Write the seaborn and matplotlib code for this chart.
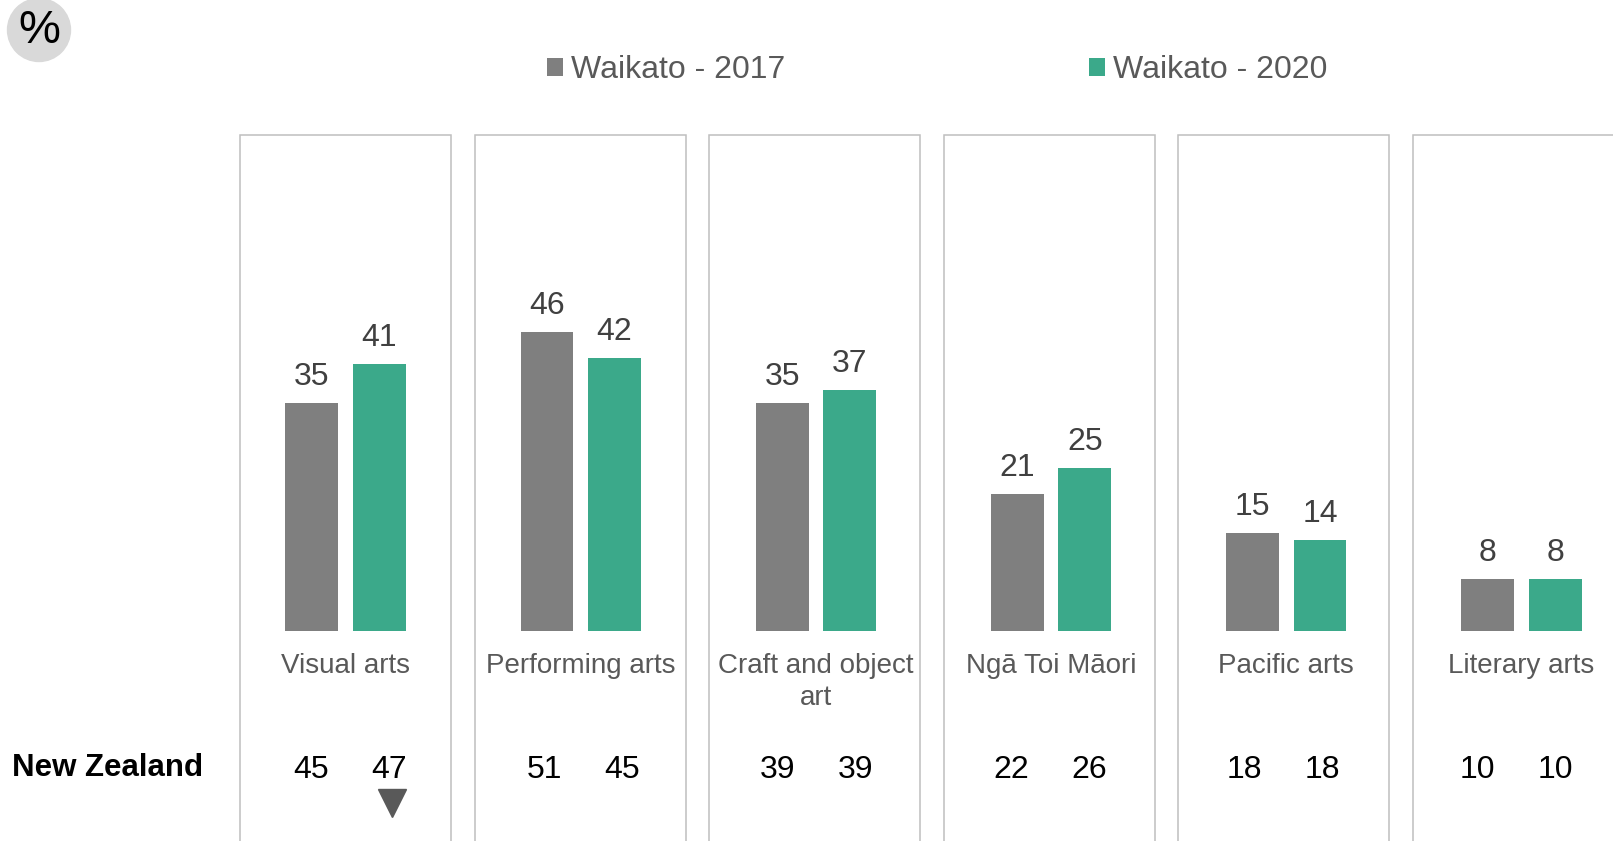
import matplotlib
matplotlib.use("Agg")
import matplotlib.pyplot as plt
from matplotlib.patches import Rectangle, Ellipse
import numpy as np
import pandas as pd
import seaborn as sns

# ---- data ----
categories = ["Visual arts", "Performing arts", "Craft and object\nart",
              "Ngā Toi Māori", "Pacific arts", "Literary arts"]
series_labels = ["Waikato - 2017", "Waikato - 2020"]
waikato_2017 = [35, 46, 35, 21, 15, 8]
waikato_2020 = [41, 42, 37, 25, 14, 8]
nz_label = "New Zealand"
nz_2017 = [45, 51, 39, 22, 18, 10]
nz_2020 = [47, 45, 39, 26, 18, 10]
nz_2020_sig = ["down", "", "", "", "", ""]

# ---- style ----
sns.set_style("white")
plt.rcParams['font.family'] = ['Liberation Sans', 'DejaVu Sans']
GRAY = "#7f7f7f"
GREEN = "#3ba98a"
BOX = "#bfbfbf"

df = pd.DataFrame({
    "category": categories * 2,
    "series": [series_labels[0]] * len(categories) + [series_labels[1]] * len(categories),
    "value": waikato_2017 + waikato_2020,
})

W, H = 1613, 841
fig = plt.figure(figsize=(W / 100, H / 100), dpi=100)
ax = fig.add_axes([0, 0, 1, 1])

sns.barplot(data=df, x="category", y="value", hue="series",
            order=categories, hue_order=series_labels,
            palette=[GRAY, GREEN], saturation=1, errorbar=None,
            width=0.573, gap=0.218, linewidth=0, ax=ax, zorder=3)

pitch = 235.2
ppu = 6.497
x0 = 345.5
base = 630.6
ax.set_xlim(-x0 / pitch, (W - x0) / pitch)
ax.set_ylim(-(H - base) / ppu, base / ppu)
ax.axis("off")


def px2x(px):
    return (px - x0) / pitch


# panel boxes
box_top = (base - 134.5) / ppu
box_pitch = 234.5
for i in range(len(categories)):
    left = px2x(240 + box_pitch * i)
    ax.add_patch(Rectangle((left, -60), 211 / pitch, box_top + 60, fill=False,
                           edgecolor=BOX, linewidth=1.1, zorder=1, clip_on=False))

# value labels
for cont in ax.containers:
    for bar in cont:
        h = bar.get_height()
        ax.text(bar.get_x() + bar.get_width() / 2, h + 4.0, f"{h:.0f}",
                ha="center", va="center", fontsize=23, color="#404040", zorder=4)

# category labels
for i, cat in enumerate(categories):
    ax.text(i, -3.4, cat, ha="center", va="top",
            fontsize=20, color="#595959", linespacing=1.3)

# New Zealand row
fig.text(11.5 / W, 1 - 768 / H, nz_label, ha="left", va="center",
         fontsize=22.5, fontweight="bold", color="black")
nz_pitch = 233.4
for i in range(len(categories)):
    ax.text(px2x(310.7 + nz_pitch * i), -21.4, f"{nz_2017[i]}", ha="center",
            va="center", fontsize=23, color="black")
    ax.text(px2x(388.8 + nz_pitch * i), -21.4, f"{nz_2020[i]}", ha="center",
            va="center", fontsize=23, color="black")
    if nz_2020_sig[i] == "down":
        ax.plot([px2x(391.5 + nz_pitch * i)], [-26.6], marker="v", markersize=19.5,
                color="#595959", linestyle="none", clip_on=False)

# legend
sns.move_legend(ax, loc="center left", bbox_to_anchor=(547 / W, 1 - 70 / H),
                ncol=2, frameon=False, title=None, fontsize=23,
                handlelength=0.5, handleheight=0.5, handletextpad=0.25,
                columnspacing=9.52, borderpad=0, borderaxespad=0)
leg = ax.get_legend()
for t in leg.get_texts():
    t.set_color("#595959")

# % badge
fig.add_artist(Ellipse((39 / W, 1 - 30 / H), 63 / W, 63 / H,
                       transform=fig.transFigure, color="#d9d9d9", zorder=0))
fig.text(39 / W, 1 - 31 / H, "%", ha="center", va="center", fontsize=34, color="black")

fig.savefig("out.png", dpi=100)
